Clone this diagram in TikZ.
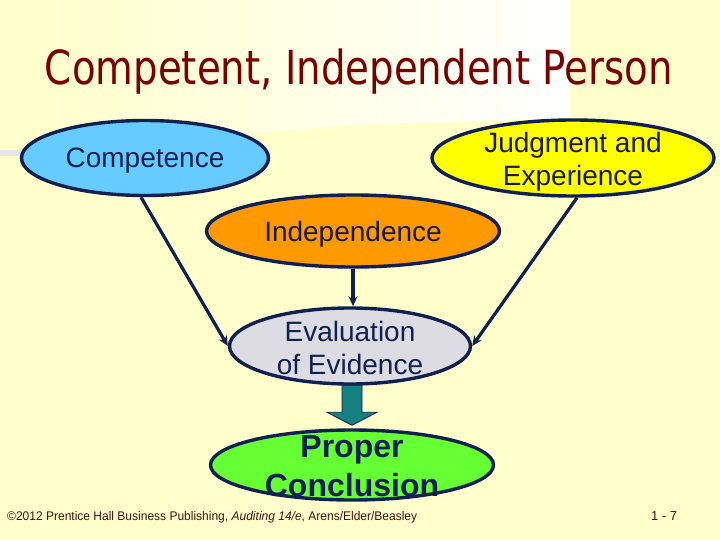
\documentclass[tikz,border=0pt]{standalone}
\usepackage{fontspec}
\setmainfont{Liberation Sans}
\newfontfamily\titlefont{DejaVu Sans}
\usetikzlibrary{shapes.geometric,arrows.meta,calc}
\definecolor{bg}{RGB}{255,255,204}
\definecolor{navy}{RGB}{16,32,80}
\definecolor{titlered}{RGB}{122,0,0}
\definecolor{footred}{RGB}{75,15,15}
\definecolor{cblue}{RGB}{102,204,255}
\definecolor{cyellow}{RGB}{255,255,0}
\definecolor{corange}{RGB}{255,153,0}
\definecolor{cgray}{RGB}{220,220,226}
\definecolor{cgreen}{RGB}{102,255,51}
\definecolor{cteal}{RGB}{20,128,128}
\definecolor{txtdark}{RGB}{25,25,45}
\begin{document}
\begin{tikzpicture}[x=1pt,y=-1pt,
  ell/.style={ellipse, draw=navy, line width=3.4pt, inner sep=0pt},
  txt/.style={align=center, inner sep=0pt, font=\fontsize{28}{33}\selectfont, text=txtdark},
  conn/.style={draw=navy, line width=3.2pt, -{Stealth[length=10pt,width=9pt]}}]
\useasboundingbox (0,0) rectangle (720,540);
\fill[bg] (0,0) rectangle (720,540);
\shade[left color=bg, right color=white] (30,0) -- (570,0) -- (570,118) -- (360,125) -- (150,140) -- (30,150) -- cycle;
\fill[gray!20] (0,150) rectangle (30,156);
% title
\node[anchor=base, inner sep=0pt, text=titlered, font=\titlefont\fontsize{47}{58}\selectfont] (title) at (359,85) {\resizebox{628pt}{\height}{Competent, Independent Person}};
% ellipses
\node[ell, fill=cblue, minimum width=247pt, minimum height=75pt] (comp) at (145,158) {};
\node[txt, text=navy] at ($(comp.center)+(0,3)$) {Competence};
\node[ell, fill=cyellow, minimum width=282pt, minimum height=76pt] (judg) at (573,158) {};
\node[txt] at ($(judg.center)+(0,4)$) {Judgment and\\Experience};
\node[ell, fill=corange, minimum width=293pt, minimum height=72pt] (indep) at (353,231) {};
\node[txt] at ($(indep.center)+(0,3)$) {Independence};
\node[ell, fill=cgray, minimum width=241pt, minimum height=76pt] (eval) at (350,346) {};
\node[ell, fill=cgreen, minimum width=283pt, minimum height=70pt] (concl) at (352,465) {};
% block arrow
\filldraw[fill=cteal, draw=navy, line width=0.8pt]
  ($(concl.north)+(-10,-43)$) -- ($(concl.north)+(10,-43)$) -- ($(concl.north)+(10,-16)$)
  -- ($(concl.north)+(25,-16)$) -- ($(concl.north)+(0,-3)$) -- ($(concl.north)+(-25,-16)$)
  -- ($(concl.north)+(-10,-16)$) -- cycle;
\node[txt, text=navy] at ($(eval.center)+(0,2)$) {Evaluation\\of Evidence};
\node[txt, text=navy, font=\bfseries\fontsize{32}{39}\selectfont] at ($(concl.center)+(0,1)$) {Proper\\Conclusion};
% connectors
\draw[conn] ($(comp.south)+(-4,0)$) -- (eval.west);
\draw[conn] ($(judg.south)+(4,0)$) -- (eval.east);
\draw[conn] (indep.south) -- (indep.south |- eval.north);
% footer
\node[anchor=base west, inner sep=0pt, text=footred, font=\fontsize{12.5}{14}\selectfont] (foot) at (7,520) {\resizebox{410pt}{\height}{©2012 Prentice Hall Business Publishing, \textit{Auditing 14/e}, Arens/Elder/Beasley}};
\node[anchor=base west, inner sep=0pt, text=footred, font=\fontsize{13}{14}\selectfont] (page) at (651,520) {1 - 7};
\end{tikzpicture}
\end{document}
